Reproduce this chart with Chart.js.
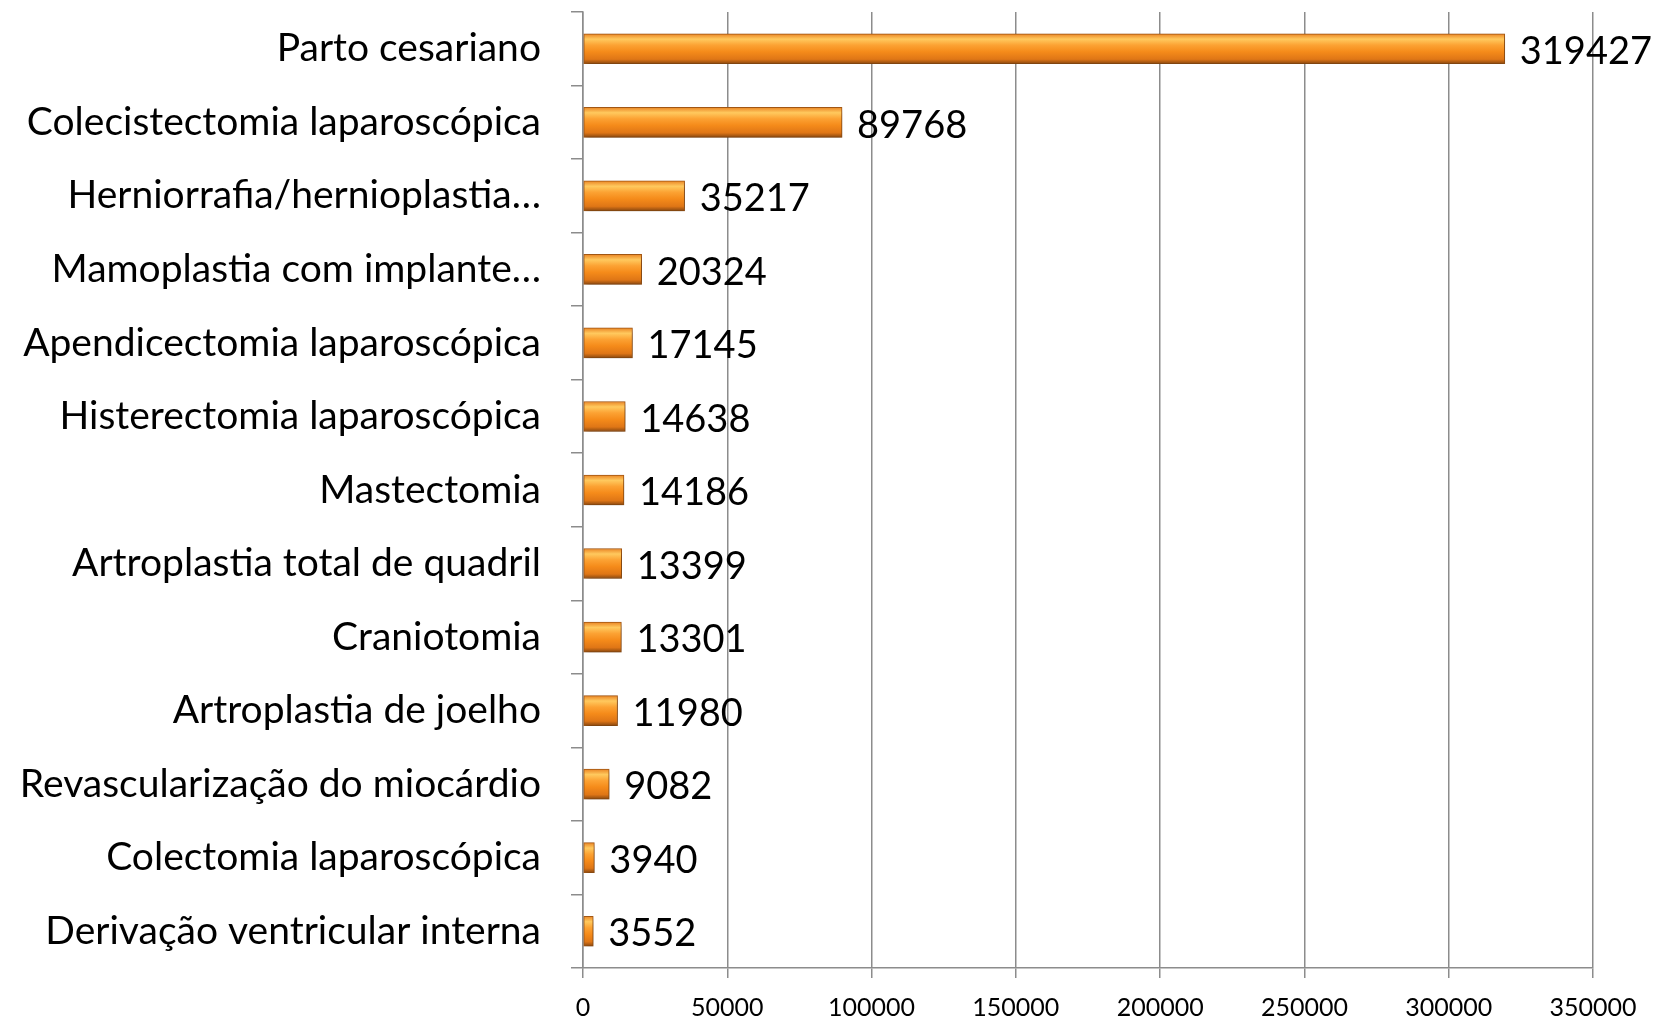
<!DOCTYPE html>
<html>
<head>
<meta charset="utf-8">
<script src="https://cdn.jsdelivr.net/npm/chart.js@4.4.0/dist/chart.umd.min.js"></script>
<style>
  html, body { margin: 0; padding: 0; background: #fff; }
  #wrap { width: 1665px; height: 1019px; }
</style>
</head>
<body>
<div id="wrap"><canvas id="myChart" width="1665" height="1019"></canvas></div>
<script>
const procedures = [
  'Parto cesariano',
  'Colecistectomia laparoscópica',
  'Herniorrafia/hernioplastia…',
  'Mamoplastia com implante…',
  'Apendicectomia laparoscópica',
  'Histerectomia laparoscópica',
  'Mastectomia',
  'Artroplastia total de quadril',
  'Craniotomia',
  'Artroplastia de joelho',
  'Revascularização do miocárdio',
  'Colectomia laparoscópica',
  'Derivação ventricular interna'
];
const cases = [319427, 89768, 35217, 20324, 17145, 14638, 14186, 13399, 13301, 11980, 9082, 3940, 3552];
const xTicks = [0, 50000, 100000, 150000, 200000, 250000, 300000, 350000];

const ctx = document.getElementById('myChart');
const font = 'Lato, "Open Sans", sans-serif';

// bevelled orange look, one gradient per bar
function barFill(c) {
  const chart = c.chart;
  const y = chart.scales.y;
  if (!y || c.dataIndex === undefined) return '#f59a33';
  const mid = y.getPixelForValue(c.dataIndex);
  if (!isFinite(mid)) return '#f59a33';
  const g = chart.ctx.createLinearGradient(0, mid - 15, 0, mid + 15);
  g.addColorStop(0, '#ea8424');
  g.addColorStop(0.18, '#ffc95e');
  g.addColorStop(0.38, '#fca233');
  g.addColorStop(0.6, '#f58b1a');
  g.addColorStop(0.85, '#df7616');
  g.addColorStop(1, '#8a4810');
  return g;
}

const valueLabels = {
  id: 'valueLabels',
  afterDatasetsDraw(chart) {
    const c = chart.ctx;
    const meta = chart.getDatasetMeta(0);
    c.save();
    c.fillStyle = '#000';
    c.font = '38px ' + font;
    c.textBaseline = 'middle';
    c.textAlign = 'left';
    meta.data.forEach((bar, i) => {
      c.fillText(String(cases[i]), bar.x + 15, bar.y + 3);
    });
    c.restore();
  }
};

const barShadow = {
  id: 'barShadow',
  beforeDatasetDraw(chart) {
    const c = chart.ctx;
    c.save();
    c.shadowColor = 'rgba(0,0,0,0.3)';
    c.shadowBlur = 6;
    c.shadowOffsetX = 2;
    c.shadowOffsetY = 3;
  },
  afterDatasetDraw(chart) {
    chart.ctx.restore();
  }
};

new Chart(ctx, {
  type: 'bar',
  data: {
    labels: procedures,
    datasets: [{
      label: 'Procedimentos',
      data: cases,
      backgroundColor: barFill,
      borderColor: '#a85a14',
      borderWidth: 1,
      borderSkipped: false,
      barThickness: 30
    }]
  },
  options: {
    indexAxis: 'y',
    responsive: false,
    animation: false,
    layout: { padding: { top: 12, right: 72, left: 0, bottom: 0 } },
    plugins: {
      legend: { display: false },
      tooltip: { enabled: false }
    },
    scales: {
      x: {
        min: 0,
        max: 350000,
        afterBuildTicks(scale) {
          scale.ticks = xTicks.map(v => ({ value: v }));
        },
        afterFit(scale) { scale.height = 51; },
        grid: {
          color: '#8c8c8c',
          lineWidth: 1.5,
          tickLength: 10,
          drawTicks: true
        },
        border: { color: '#8c8c8c', width: 1.5 },
        ticks: {
          color: '#000',
          padding: 15,
          font: { family: font, size: 25 },
          callback: v => String(v)
        }
      },
      y: {
        afterFit(scale) {
          scale.width = 583;
          scale.paddingTop = 0;
          scale.paddingBottom = 0;
        },
        grid: {
          offset: true,
          drawOnChartArea: false,
          color: '#8c8c8c',
          lineWidth: 1.5,
          tickLength: 12
        },
        border: { color: '#8c8c8c', width: 1.5 },
        ticks: {
          color: '#000',
          padding: 30,
          font: { family: font, size: 39 }
        }
      }
    }
  },
  plugins: [barShadow, valueLabels]
});
</script>
</body>
</html>
